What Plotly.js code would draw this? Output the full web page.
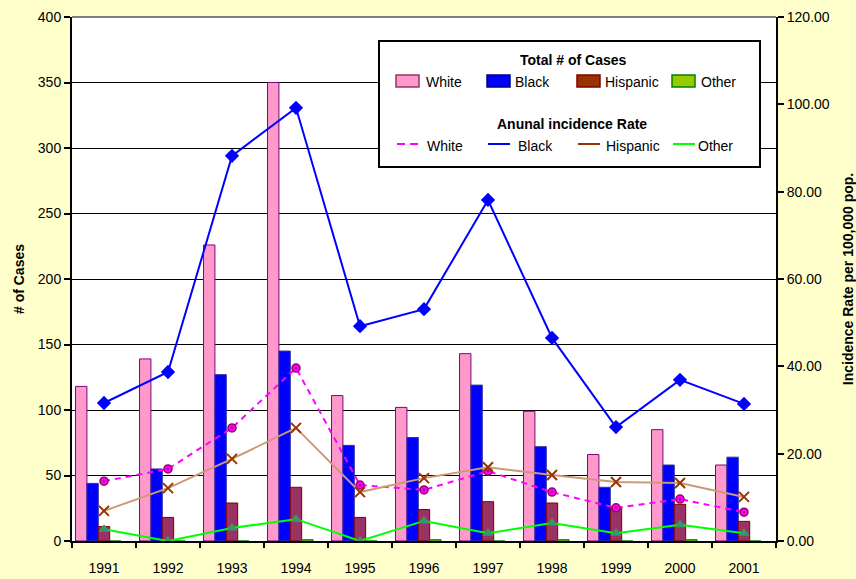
<!DOCTYPE html>
<html>
<head>
<meta charset="utf-8">
<script src="https://cdn.plot.ly/plotly-3.0.1.min.js"></script>
<style>html,body{margin:0;padding:0;background:#FFFFCC;}#chart{width:856px;height:579px;}</style>
</head>
<body>
<div id="chart"></div>
<script>
// ---- data ----
const years = ['1991','1992','1993','1994','1995','1996','1997','1998','1999','2000','2001'];
const casesWhite    = [118, 139, 226, 350, 111, 102, 143, 99, 66, 85, 58];
const casesBlack    = [44, 55, 127, 145, 73, 79, 119, 72, 41, 58, 64];
const casesHispanic = [11, 18, 29, 41, 18, 24, 30, 29, 26, 28, 15];
const casesOther    = [0, 0, 0, 1, 0, 1, 0, 1, 0, 1, 0];
const rateWhite    = [13.7, 16.5, 25.9, 39.6, 12.8, 11.7, 16.0, 11.2, 7.6, 9.6, 6.6];
const rateBlack    = [31.6, 38.7, 88.2, 99.2, 49.2, 53.1, 78.1, 46.5, 26.1, 36.9, 31.4];
const rateHispanic = [6.9, 12.1, 18.8, 25.9, 11.2, 14.4, 16.9, 15.1, 13.5, 13.3, 10.1];
const rateOther    = [2.7, 0, 3.0, 5.0, 0, 4.6, 1.8, 4.1, 1.8, 3.7, 1.8];
const leftTicks  = [0, 50, 100, 150, 200, 250, 300, 350, 400];
const rightTicks = [0, 20, 40, 60, 80, 100, 120];
const rightTickText = rightTicks.map(v => v.toFixed(2));
const legendCasesTitle = 'Total # of Cases';
const legendRateTitle = 'Anunal incidence Rate';
const groupNames = ['White', 'Black', 'Hispanic', 'Other'];

// ---- layout geometry (pixels) ----
const W = 856, H = 579;
const X0 = 72, X1 = 776, Y0 = 17, Y1 = 541;
const px = x => (x - X0) / (X1 - X0);
const py = y => (Y1 - y) / (Y1 - Y0);
const FONT = 'Liberation Sans, Arial, sans-serif';

const barW = 0.178;
const barStart = -0.445;
function barTrace(vals, fill, border, i) {
  return {
    type: 'bar', x: years, y: vals, name: groupNames[i],
    width: barW, offset: barStart + i * barW,
    marker: {color: fill, line: {color: border, width: 1}},
    xaxis: 'x', yaxis: 'y', showlegend: false, hoverinfo: 'x+y'
  };
}
const traces = [
  barTrace(casesWhite, '#FF99CC', '#800080', 0),
  barTrace(casesBlack, '#0000FF', '#333399', 1),
  barTrace(casesHispanic, '#993366', '#800000', 2),
  barTrace(casesOther, '#99CC00', '#008000', 3),
  {type: 'scatter', mode: 'lines+markers', x: years, y: rateWhite, yaxis: 'y2', name: 'White rate',
   line: {color: '#FF00FF', width: 2, dash: '6px,5px'},
   marker: {symbol: 'circle-dot', size: 8, color: '#FF00FF', line: {color: '#990066', width: 1.5}}, showlegend: false},
  {type: 'scatter', mode: 'lines+markers', x: years, y: rateHispanic, yaxis: 'y2', name: 'Hispanic rate',
   line: {color: '#CC9977', width: 2},
   marker: {symbol: 'x-thin-open', size: 10, color: '#993300', line: {color: '#993300', width: 2}}, showlegend: false},
  {type: 'scatter', mode: 'lines+markers', x: years, y: rateOther, yaxis: 'y2', name: 'Other rate',
   line: {color: '#00FF00', width: 2},
   marker: {symbol: 'triangle-up', size: 10, color: '#339966'}, showlegend: false},
  {type: 'scatter', mode: 'lines+markers', x: years, y: rateBlack, yaxis: 'y2', name: 'Black rate',
   line: {color: '#0000FF', width: 2},
   marker: {symbol: 'diamond', size: 11, color: '#0000FF'}, showlegend: false}
];

// ---- custom legend ----
const shapes = [
  // top border of plot area
  {type: 'line', xref: 'paper', yref: 'paper', x0: 0, x1: 1, y0: 1, y1: 1, line: {color: '#808080', width: 2}},
  // legend box
  {type: 'rect', xref: 'paper', yref: 'paper', x0: px(379), x1: px(760), y0: py(167), y1: py(41),
   fillcolor: '#FFFFFF', line: {color: '#000000', width: 2}}
];
const annotations = [
  {xref: 'paper', yref: 'paper', x: px(573), y: py(60), text: '<b>' + legendCasesTitle + '</b>', showarrow: false,
   xanchor: 'center', yanchor: 'middle', font: {family: FONT, size: 14, color: '#000'}},
  {xref: 'paper', yref: 'paper', x: px(572), y: py(124), text: '<b>' + legendRateTitle + '</b>', showarrow: false,
   xanchor: 'center', yanchor: 'middle', font: {family: FONT, size: 14, color: '#000'}}
];
const swatchX = [396, 487, 577, 672];
const row1Text = [424, 513, 603, 699];
const swFill = ['#FF99CC', '#0000FF', '#993300', '#99CC00'];
const swBorder = ['#993366', '#000080', '#800000', '#008000'];
const row2Text = [425, 516, 604, 696];
const lnColor = ['#FF00FF', '#0000FF', '#993300', '#00FF00'];
for (let i = 0; i < 4; i++) {
  shapes.push({type: 'rect', xref: 'paper', yref: 'paper', x0: px(swatchX[i]), x1: px(swatchX[i] + 23),
    y0: py(87), y1: py(75), fillcolor: swFill[i], line: {color: swBorder[i], width: 1.5}});
  annotations.push({xref: 'paper', yref: 'paper', x: px(row1Text[i]), y: py(82), text: groupNames[i], showarrow: false,
    xanchor: 'left', yanchor: 'middle', font: {family: FONT, size: 14, color: '#000'}});
  shapes.push({type: 'line', xref: 'paper', yref: 'paper', x0: px(swatchX[i] + 1), x1: px(swatchX[i] + 23),
    y0: py(144), y1: py(144), line: {color: lnColor[i], width: 2, dash: i === 0 ? '8px,5px' : 'solid'}});
  annotations.push({xref: 'paper', yref: 'paper', x: px(row2Text[i]), y: py(146), text: groupNames[i], showarrow: false,
    xanchor: 'left', yanchor: 'middle', font: {family: FONT, size: 14, color: '#000'}});
}

const tickFont = {family: FONT, size: 14, color: '#000'};
const layout = {
  width: W, height: H,
  paper_bgcolor: '#FFFFCC', plot_bgcolor: '#FFFFFF',
  margin: {l: X0, r: W - X1, t: Y0, b: H - Y1, autoexpand: false},
  showlegend: false,
  barmode: 'group',
  xaxis: {type: 'category', categoryarray: years, categoryorder: 'array', range: [-0.5, 10.5],
    tickson: 'boundaries', ticks: 'outside', ticklen: 5, tickwidth: 2, tickcolor: '#000',
    showline: true, linecolor: '#000', linewidth: 2, showgrid: false, zeroline: false,
    tickfont: tickFont, ticklabelstandoff: 13, automargin: false, fixedrange: true},
  xaxis2: {overlaying: 'x', anchor: 'y', range: [-0.5, 10.5], tickmode: 'array',
    tickvals: [-0.5,0.5,1.5,2.5,3.5,4.5,5.5,6.5,7.5,8.5,9.5,10.5], ticks: 'inside', ticklen: 5, tickwidth: 2,
    tickcolor: '#000', showticklabels: false, showline: false, showgrid: false, zeroline: false, automargin: false},
  yaxis: {range: [0, 400], tickmode: 'array', tickvals: leftTicks, ticks: 'outside', ticklen: 6, tickwidth: 2,
    tickcolor: '#000', showline: true, linecolor: '#000', linewidth: 2, showgrid: true, gridcolor: '#000', gridwidth: 1,
    zeroline: false, tickfont: tickFont, automargin: false,
    title: {text: '<b># of Cases</b>', font: {family: FONT, size: 14, color: '#000'}, standoff: 10}},
  yaxis2: {overlaying: 'y', side: 'right', anchor: 'x', range: [0, 120], tickmode: 'array', tickvals: rightTicks,
    ticktext: rightTickText, ticks: 'outside', ticklen: 6, tickwidth: 2, tickcolor: '#000',
    showline: true, linecolor: '#000', linewidth: 2, showgrid: false, zeroline: false, tickfont: tickFont, automargin: false,
    title: {text: '<b>Incidence Rate per 100,000 pop.</b>', font: {family: FONT, size: 14, color: '#000'}, standoff: 17}},
  yaxis3: {overlaying: 'y', side: 'left', anchor: 'x', range: [0, 400], tickmode: 'array', tickvals: leftTicks,
    ticks: 'inside', ticklen: 5, tickwidth: 2, tickcolor: '#000', showticklabels: false, showline: false,
    showgrid: false, zeroline: false, automargin: false},
  yaxis4: {overlaying: 'y', side: 'right', anchor: 'x', range: [0, 120], tickmode: 'array', tickvals: rightTicks,
    ticks: 'inside', ticklen: 5, tickwidth: 2, tickcolor: '#000', showticklabels: false, showline: false,
    showgrid: false, zeroline: false, automargin: false},
  shapes: shapes,
  annotations: annotations
};
Plotly.newPlot('chart', traces, layout, {displayModeBar: false, staticPlot: true});
</script>
</body>
</html>
